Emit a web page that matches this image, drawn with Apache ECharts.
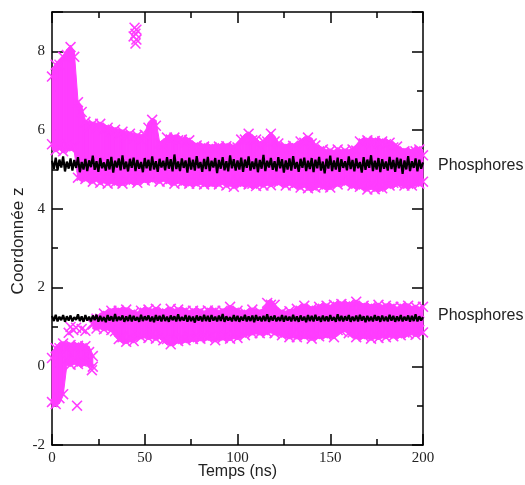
<!DOCTYPE html>
<html><head><meta charset="utf-8">
<script src="https://cdn.jsdelivr.net/npm/echarts@6/dist/echarts.min.js"></script>
<style>html,body{margin:0;padding:0;background:#fff}#c{width:525px;height:485px}</style>
</head><body><div id="c"></div>
<script>
// ---- data ----
const MAG = '#ff3dff';
const xTickValues = [0, 50, 100, 150, 200];
const yTickValues = [-2, 0, 2, 4, 6, 8];

// black ribbons sampled every 1 ns (t = 0..200)
const blackTimes = Array.from({length: 201}, (_, i) => i);
const upperBlack = [
5.22,5.01,5.30,4.98,5.25,5.05,5.33,4.95,5.20,5.02,5.28,4.97,5.24,5.04,5.31,4.93,5.19,5.00,5.27,4.96,
5.23,5.06,5.35,4.99,5.21,4.94,5.29,5.03,5.18,4.97,5.26,5.00,5.32,4.92,5.22,5.05,5.28,4.98,5.36,5.01,
5.20,4.95,5.27,5.04,5.30,4.96,5.24,5.02,5.19,4.93,5.29,5.03,5.25,4.97,5.33,5.00,5.21,4.94,5.27,5.05,
5.22,4.98,5.31,5.02,5.26,4.95,5.38,5.01,5.20,4.96,5.28,5.04,5.23,4.92,5.30,5.00,5.25,4.97,5.34,5.03,
5.19,4.94,5.27,5.01,5.32,4.96,5.22,5.05,5.29,4.91,5.24,5.02,5.31,4.98,5.21,4.95,5.36,5.03,5.26,4.97,
5.23,5.00,5.30,4.94,5.25,5.04,5.33,4.97,5.20,5.01,5.28,4.93,5.24,5.02,5.37,4.96,5.22,5.05,5.29,4.99,
5.21,4.95,5.31,5.03,5.26,4.92,5.23,5.00,5.28,4.97,5.34,5.02,5.19,4.94,5.27,5.04,5.30,4.96,5.22,5.01,
5.29,4.93,5.25,5.03,5.32,4.97,5.20,4.90,5.27,5.02,5.35,4.96,5.23,5.00,5.30,4.94,5.26,5.04,5.21,4.98,
5.33,5.01,5.24,4.95,5.28,5.03,5.19,4.92,5.31,4.99,5.25,5.04,5.36,4.96,5.22,5.00,5.29,4.93,5.26,5.02,
5.20,4.97,5.32,5.01,5.24,4.94,5.30,5.03,5.27,4.89,5.23,5.00,5.34,4.96,5.21,5.04,5.28,4.95,5.25,5.02,5.18
];
const lowerBlack = [
1.28,1.15,1.31,1.14,1.26,1.17,1.30,1.13,1.27,1.16,1.29,1.14,1.25,1.18,1.32,1.15,1.27,1.13,1.30,1.16,
1.26,1.14,1.29,1.17,1.31,1.13,1.28,1.15,1.25,1.12,1.30,1.16,1.27,1.14,1.33,1.15,1.26,1.17,1.29,1.13,
1.27,1.15,1.30,1.14,1.28,1.16,1.25,1.13,1.31,1.15,1.27,1.17,1.29,1.14,1.26,1.12,1.30,1.16,1.28,1.14,
1.31,1.15,1.26,1.13,1.29,1.17,1.27,1.14,1.32,1.15,1.25,1.16,1.30,1.13,1.28,1.15,1.26,1.11,1.29,1.16,
1.27,1.14,1.31,1.15,1.28,1.13,1.30,1.16,1.26,1.14,1.29,1.15,1.33,1.13,1.27,1.16,1.25,1.14,1.30,1.15,
1.28,1.13,1.26,1.16,1.31,1.14,1.27,1.15,1.29,1.12,1.30,1.16,1.26,1.14,1.28,1.15,1.32,1.13,1.27,1.16,
1.29,1.14,1.25,1.15,1.30,1.13,1.28,1.16,1.26,1.14,1.31,1.15,1.27,1.13,1.29,1.16,1.26,1.12,1.30,1.15,
1.28,1.14,1.31,1.16,1.26,1.13,1.29,1.15,1.27,1.14,1.30,1.16,1.25,1.13,1.32,1.15,1.28,1.14,1.27,1.16,
1.30,1.13,1.26,1.15,1.29,1.14,1.31,1.16,1.27,1.12,1.28,1.15,1.26,1.14,1.30,1.16,1.27,1.13,1.29,1.15,
1.26,1.14,1.31,1.16,1.28,1.13,1.27,1.15,1.30,1.14,1.26,1.16,1.29,1.13,1.28,1.15,1.32,1.14,1.27,1.16,1.25
];

// magenta upper band envelope, every 2 ns (t = 0..200)
const bandTimes = Array.from({length: 101}, (_, i) => i * 2);
const upperHigh = [
7.5,7.7,7.8,7.9,8.05,8.15,8.0,
6.75,6.6,6.25,6.22,6.2,6.18,6.2,
6.15,6.1,6.08,6.05,6.02,6.0,5.97,5.95,5.92,5.9,5.88,5.92,
6.2,6.3,6.25,5.7,5.75,5.85,5.9,5.85,5.88,5.8,
5.82,5.78,5.7,5.65,5.68,5.62,5.66,5.6,5.64,5.62,
5.68,5.63,5.66,5.6,5.7,5.8,5.9,5.95,5.88,5.8,
5.7,5.75,5.85,5.95,5.85,5.7,5.65,5.62,5.66,5.64,
5.68,5.75,5.82,5.85,5.8,5.65,5.6,5.55,5.5,5.52,
5.48,5.55,5.5,5.52,5.5,5.55,5.62,5.75,5.8,5.78,
5.82,5.76,5.8,5.75,5.78,5.72,5.7,5.62,5.55,5.5,
5.55,5.48,5.6,5.55,5.5
];
const upperLow = [
5.5,5.45,5.5,5.42,5.48,5.5,5.45,
4.75,4.7,4.72,4.68,4.65,4.7,4.62,
4.66,4.6,4.64,4.62,4.58,4.6,4.63,4.66,4.6,4.62,4.65,4.68,
4.66,4.7,4.68,4.65,4.7,4.66,4.62,4.6,4.65,4.62,
4.58,4.6,4.56,4.6,4.62,4.58,4.55,4.6,4.56,4.58,
4.62,4.55,4.58,4.52,4.56,4.6,4.55,4.58,4.5,4.54,
4.58,4.55,4.6,4.56,4.6,4.62,4.58,4.55,4.6,4.56,
4.52,4.5,4.55,4.48,4.45,4.5,4.55,4.52,4.48,4.5,
4.55,4.58,4.6,4.62,4.58,4.55,4.5,4.52,4.48,4.45,
4.5,4.46,4.42,4.48,4.5,4.55,4.52,4.6,4.58,4.55,
4.5,4.55,4.58,4.6,4.55
];

// magenta lower band, early part (t = 0..22)
const earlyTimes = [0,2,4,6,8,10,12,14,16,18,20,22];
const earlyHigh = [0.35,0.5,0.6,0.62,0.6,0.58,0.62,0.56,0.6,0.55,0.5,0.3];
const earlyLow  = [-1.05,-1.0,-0.95,-0.75,0.02,0.0,0.05,0.02,-0.02,0.05,0.0,-0.05];

// magenta lower band, late part (t = 22..200, every 2 ns)
const lateTimes = Array.from({length: 90}, (_, i) => 22 + i * 2);
const lateHigh = [
1.2,1.25,1.35,1.38,1.42,1.45,1.48,1.45,1.5,1.48,
1.45,1.4,1.38,1.45,1.5,1.48,1.45,1.5,1.46,1.42,
1.48,1.5,1.45,1.48,1.5,1.45,1.42,1.45,1.48,1.44,
1.4,1.46,1.5,1.45,1.42,1.45,1.48,1.55,1.5,1.45,
1.42,1.4,1.45,1.48,1.45,1.42,1.45,1.65,1.7,1.6,
1.45,1.42,1.4,1.44,1.45,1.5,1.55,1.58,1.55,1.5,
1.52,1.55,1.6,1.58,1.55,1.6,1.65,1.62,1.66,1.6,
1.64,1.68,1.62,1.58,1.6,1.55,1.58,1.6,1.55,1.58,
1.6,1.55,1.5,1.55,1.6,1.58,1.52,1.55,1.5,1.55
];
const lateLow = [
0.95,0.92,0.95,0.9,0.92,0.88,0.75,0.65,0.6,0.58,
0.62,0.6,0.68,0.7,0.72,0.68,0.7,0.66,0.7,0.62,
0.55,0.52,0.55,0.6,0.58,0.62,0.6,0.65,0.62,0.66,
0.64,0.68,0.65,0.62,0.66,0.68,0.64,0.66,0.7,0.68,
0.72,0.75,0.78,0.8,0.82,0.8,0.78,0.82,0.85,0.8,
0.78,0.75,0.72,0.7,0.72,0.7,0.68,0.72,0.7,0.66,
0.68,0.72,0.7,0.75,0.72,0.7,0.78,0.85,0.88,0.8,
0.72,0.7,0.68,0.72,0.7,0.66,0.7,0.68,0.72,0.7,
0.74,0.72,0.7,0.75,0.72,0.78,0.8,0.76,0.78,0.82
];

// isolated magenta crosses
const strayTimes  = [44.5,45.5,45,44,45.5,45, 9,10,11.5,13,16,18, 13.5,21.5];
const strayValues = [8.6,8.55,8.45,8.38,8.3,8.2, 0.85,1.0,0.92,0.98,0.95,0.9, -1.0,-0.1];

const labelText = 'Phosphores';
const xTitle = 'Temps (ns)';
const yTitle = 'Coordonnée z';

// ---- chart ----
const X_SYMBOL = 'path://M0,1L1,0L5,4L9,0L10,1L6,5L10,9L9,10L5,6L1,10L0,9L4,5Z';

function band(times, lows, highs) {
  const data = times.map((t, i) => [t, lows[i], highs[i]]);
  return {
    type: 'custom', coordinateSystem: 'cartesian2d', xAxisIndex: 0, yAxisIndex: 0,
    z: 1, silent: true, encode: {x: 0, y: [1, 2]}, data,
    renderItem(params, api) {
      const i = params.dataIndex;
      if (i >= data.length - 1) return null;
      const a = data[i], b = data[i + 1];
      const pts = [api.coord([a[0], a[1]]), api.coord([a[0], a[2]]),
                   api.coord([b[0], b[2]]), api.coord([b[0], b[1]])];
      return {type: 'polygon', shape: {points: pts}, style: {fill: MAG, stroke: MAG, lineWidth: 1}};
    }
  };
}
function edgePoints(times, lows, highs) {
  const out = [];
  times.forEach((t, i) => {
    const d = (i % 2) ? 0.04 : 0.14;
    out.push([t, highs[i] - d]); out.push([t, lows[i] + d]);
  });
  return out;
}
function crosses(data) {
  return {type: 'scatter', xAxisIndex: 0, yAxisIndex: 0, z: 2, silent: true, clip: false,
    symbol: X_SYMBOL, symbolSize: 11, data, itemStyle: {color: MAG, opacity: 1}};
}
function blackLine(vals) {
  return {type: 'line', xAxisIndex: 0, yAxisIndex: 0, z: 5, silent: true,
    data: blackTimes.map((t, i) => [t, vals[i]]), symbol: 'none', showSymbol: false,
    lineStyle: {color: '#000', width: 2.2, join: 'bevel'}};
}

const axisLineStyle = {color: '#000', width: 1.5};
const tickFont = {fontFamily: 'Liberation Serif', fontSize: 15, color: '#222'};

function xAx(pos, labels) {
  return {type: 'value', min: 0, max: 200, interval: 50, position: pos,
    axisLine: {show: true, onZero: false, lineStyle: axisLineStyle},
    axisTick: {show: true, inside: true, length: 11, lineStyle: axisLineStyle},
    minorTick: {show: true, splitNumber: 2, length: 6, lineStyle: axisLineStyle},
    splitLine: {show: false}, minorSplitLine: {show: false},
    axisLabel: Object.assign({show: labels, margin: 6,
      formatter: v => xTickValues.includes(v) ? String(v) : ''}, tickFont)};
}
function yAx(pos, interval, len, line, labels) {
  return {type: 'value', min: -2, max: 9, interval, position: pos,
    axisLine: {show: line, onZero: false, lineStyle: axisLineStyle},
    axisTick: {show: true, inside: true, length: len, lineStyle: axisLineStyle},
    splitLine: {show: false},
    axisLabel: Object.assign({show: labels, margin: 7,
      formatter: v => yTickValues.includes(v) ? String(v) : ''}, tickFont)};
}

const chart = echarts.init(document.getElementById('c'), null, {renderer: 'canvas'});
chart.setOption({
  animation: false,
  backgroundColor: '#fff',
  grid: {left: 52, right: 102, top: 12, bottom: 40, containLabel: false, outerBoundsMode: 'none'},
  xAxis: [xAx('bottom', true), xAx('top', false)],
  yAxis: [yAx('left', 2, 11, true, true), yAx('left', 1, 6, false, false),
          yAx('right', 2, 11, true, false), yAx('right', 1, 6, false, false)],
  series: [
    band(bandTimes, upperLow, upperHigh),
    band(earlyTimes, earlyLow, earlyHigh),
    band(lateTimes, lateLow, lateHigh),
    crosses(edgePoints(bandTimes, upperLow, upperHigh)
      .concat(edgePoints(earlyTimes, earlyLow, earlyHigh))
      .concat(edgePoints(lateTimes, lateLow, lateHigh))
      .concat(strayTimes.map((t, i) => [t, strayValues[i]]))),
    blackLine(upperBlack),
    blackLine(lowerBlack)
  ],
  graphic: [
    {type: 'text', x: 237.5, y: 472, silent: true,
     style: {text: xTitle, font: '16px "Liberation Sans"', fill: '#222', align: 'center', verticalAlign: 'middle'}},
    {type: 'text', x: 18.5, y: 241, rotation: Math.PI / 2, silent: true,
     style: {text: yTitle, font: '17px "Liberation Sans"', fill: '#222', align: 'center', verticalAlign: 'middle'}},
    {type: 'text', x: 438, y: 166, silent: true,
     style: {text: labelText, font: '16px "Liberation Sans"', fill: '#222', align: 'left', verticalAlign: 'middle'}},
    {type: 'text', x: 438, y: 316, silent: true,
     style: {text: labelText, font: '16px "Liberation Sans"', fill: '#222', align: 'left', verticalAlign: 'middle'}}
  ]
});
</script></body></html>
